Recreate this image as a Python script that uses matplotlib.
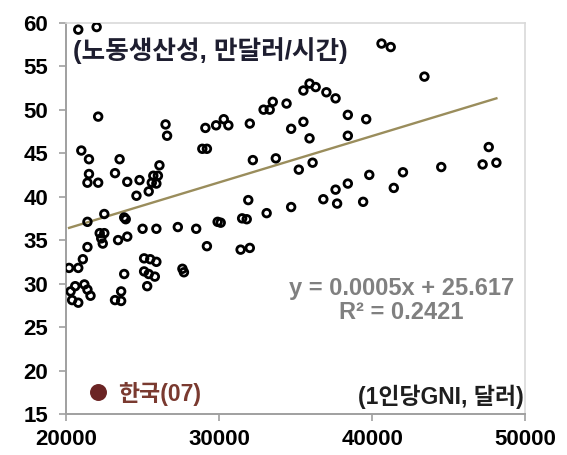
import matplotlib
matplotlib.use("Agg")
import matplotlib.pyplot as plt
import numpy as np

# GNI per capita (USD) vs labour productivity (USD/hour)
gni = [20800, 22000, 40600, 41200, 43400, 35900, 36300, 35500, 37000, 37600,
       34400, 33500, 33300, 32900, 30300, 30600, 29800, 29100, 32000, 35500,
       34700, 35900, 38400, 39600, 38400, 22100, 26500, 26600, 21000, 21500,
       23500, 28900, 29200, 26100, 21500, 21400, 22100, 23200, 24000, 24800,
       25700, 26000, 25600, 25900, 25400, 24600, 21400, 22500, 23800, 23900,
       25000, 25900, 27300, 28500, 29900, 22200, 22500, 22300, 22400, 23400,
       24000, 21400, 29200, 21100, 20200, 20800, 25100, 25500, 25900, 23800,
       25100, 25400, 25800, 27600, 27700, 25300, 20600, 21200, 20300, 21400,
       21600, 20400, 20800, 23600, 23200, 23600, 32200, 33700, 35200, 36100,
       39800, 38400, 37600, 36800, 37700, 39400, 41400, 42000, 31900, 34700,
       33100, 31500, 31800, 30100, 31400, 32000, 47600, 47200, 48100, 44500]
productivity = [59.2, 59.5, 57.6, 57.2, 53.8, 53.0, 52.6, 52.2, 52.0, 51.3,
                50.7, 50.9, 50.0, 50.0, 48.9, 48.2, 48.2, 47.9, 48.4, 48.6,
                47.8, 46.7, 49.4, 48.9, 47.0, 49.2, 48.3, 47.0, 45.3, 44.3,
                44.3, 45.5, 45.5, 43.6, 42.6, 41.6, 41.6, 42.7, 41.7, 41.9,
                42.4, 42.4, 41.6, 41.5, 40.6, 40.1, 37.1, 38.0, 37.6, 37.4,
                36.3, 36.3, 36.5, 36.3, 37.1, 35.8, 35.8, 35.2, 34.6, 35.0,
                35.4, 34.2, 34.3, 32.8, 31.8, 31.8, 32.9, 32.8, 32.5, 31.1,
                31.4, 31.1, 30.8, 31.7, 31.3, 29.7, 29.7, 29.9, 29.1, 29.3,
                28.6, 28.1, 27.8, 29.1, 28.1, 28.0, 44.2, 44.4, 43.1, 43.9,
                42.5, 41.5, 40.8, 39.7, 39.2, 39.4, 41.0, 42.8, 39.6, 38.8,
                38.1, 37.5, 37.4, 37.0, 33.9, 34.1, 45.7, 43.7, 43.9, 43.4]

korea_gni = [22100]
korea_prod = [17.5]
korea_label = "한국(07)"

trend_slope = 0.000534
trend_intercept = 25.617
eq_text = "y = 0.0005x + 25.617\nR² = 0.2421"

x_ticks = [20000, 30000, 40000, 50000]
y_ticks = [15, 20, 25, 30, 35, 40, 45, 50, 55, 60]
y_label = "(노동생산성, 만달러/시간)"
x_label = "(1인당GNI, 달러)"

fam = ["Liberation Sans", "Noto Sans CJK KR", "DejaVu Sans"]
plt.rcParams["font.family"] = fam

fig = plt.figure(figsize=(5.67, 4.55), dpi=100)
ax = fig.add_axes([0.1164, 0.0901, 0.8104, 0.86])

ax.scatter(gni, productivity, s=30, facecolors="none", edgecolors="black",
           linewidths=2.0, zorder=3)

xs = np.array([min(gni), max(gni)])
ax.plot(xs, trend_slope * xs + trend_intercept, color="#9a8d5c", lw=1.7, zorder=2)

ax.scatter(korea_gni, korea_prod, s=125, color="#6b2424", zorder=4)
ax.text(korea_gni[0] + 1300, korea_prod[0] - 0.2, korea_label, fontsize=16.5,
        fontweight="bold", color="#7a3a30", ha="left", va="center")

ax.set_xlim(20000, 50000)
ax.set_ylim(15, 60)
ax.set_xticks(x_ticks)
ax.set_yticks(y_ticks)
ax.set_xticklabels([str(v) for v in x_ticks], fontsize=16, fontweight="bold")
ax.set_yticklabels([str(v) for v in y_ticks], fontsize=16, fontweight="bold")
ax.tick_params(axis="both", direction="out", length=5, width=1.2, color="#a0a0a0")
ax.tick_params(axis="y", pad=8)
ax.tick_params(axis="x", pad=6)

for side in ["left", "bottom"]:
    ax.spines[side].set_color("#a0a0a0")
    ax.spines[side].set_linewidth(1.4)
for side in ["top", "right"]:
    ax.spines[side].set_color("#d9d9d9")
    ax.spines[side].set_linewidth(1.2)

ax.text(0.015, 0.930, y_label, transform=ax.transAxes, fontsize=18.5,
        fontweight="bold", color="#1e1e30", ha="left", va="center")
ax.text(0.997, 0.043, x_label, transform=ax.transAxes, fontsize=16.5,
        fontweight="bold", color="#1e1e1e", ha="right", va="center")
ax.text(41900, 28.1, eq_text, fontsize=17, fontweight="bold", color="#808080",
        ha="center", va="center", linespacing=1.05)

fig.savefig("out.png", dpi=100)
